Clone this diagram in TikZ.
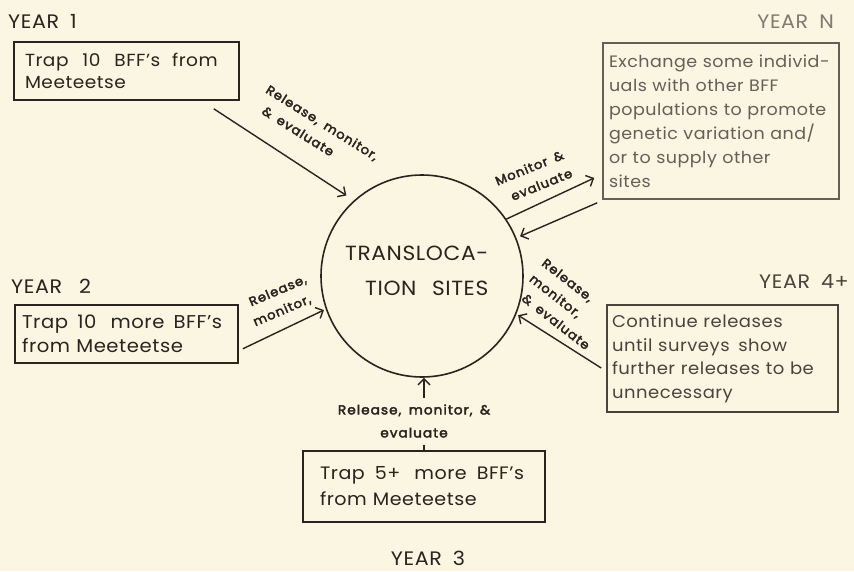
\documentclass[tikz,border=0pt]{standalone}
\usepackage{fontspec}
\setmainfont{Poppins}[LetterSpace=3,WordSpace=1.8,FakeStretch=1.06]
\newfontfamily\labfont{Poppins}[LetterSpace=8,WordSpace=1.6,FakeBold=3,FakeStretch=1.05]
\usetikzlibrary{arrows.meta}
\definecolor{bg}{RGB}{250,246,226}
\definecolor{ink}{RGB}{40,36,31}
\definecolor{inkN}{RGB}{100,95,88}
\definecolor{yrN}{RGB}{128,123,115}
\definecolor{ink4}{RGB}{72,68,62}
\newcommand{\wsp}[1]{\hspace{#1pt}}
\begin{document}
\begin{tikzpicture}[x=1pt,y=-1pt,
  box/.style={draw=ink, line width=1.6pt, rectangle, align=left, inner ysep=0pt, text=ink,
    font=\fontsize{17}{23}\selectfont},
  year/.style={text=ink, font=\fontsize{19.5}{21}\selectfont, inner sep=0pt},
  lab/.style={text=ink, font=\labfont\fontsize{12.5}{20}\selectfont, inner sep=0pt},
  arr/.style={draw=ink, line width=1.4pt, -{Straight Barb[length=6pt,width=12pt]}},
]
\fill[bg] (0,0) rectangle (854,571);
\useasboundingbox (0,0) rectangle (854,571);

% circle
\node[draw=ink, line width=1.6pt, circle, minimum size=202pt, inner sep=0pt] (c) at (422,276) {};
\node[anchor=base west, inner sep=0pt, text=ink, font=\fontsize{20.5}{24}\selectfont] (t1) at (345,260) {TRANSLOCA-};
\node[anchor=base west, inner sep=0pt, text=ink, font=\fontsize{20.5}{24}\selectfont] (t2) at (365,295) {TION\wsp{4} SITES};

% year labels
\node[year, anchor=base west] (y1) at (8,28) {YEAR 1};
\node[year, anchor=base east, text=yrN] (yN) at (834,28) {YEAR N};
\node[year, anchor=base west] (y2) at (11,293) {YEAR\wsp{6} 2};
\node[year, anchor=base east, text=ink4] (y4) at (849,288) {YEAR 4+};
\node[year, anchor=base] (y3) at (428,565) {YEAR 3};

% boxes
\node[box, minimum width=225pt, minimum height=58pt, text width=203pt, inner xsep=11pt,
  font=\fontsize{17.5}{22}\selectfont] (b1) at (126.5,71)
  {\mbox{Trap\wsp{8} 10\wsp{8} BFF's\wsp{6} from}\\Meeteetse};
\node[box, minimum width=223pt, minimum height=58pt, text width=209pt, inner xsep=7pt,
  font=\fontsize{18.5}{24}\selectfont] (b2) at (126.5,334)
  {\mbox{Trap\wsp{3} 10\wsp{8} more\wsp{3} BFF's}\\from Meeteetse};
\node[box, minimum width=242pt, minimum height=71pt, text width=208pt, inner xsep=17pt,
  font=\fontsize{18}{26}\selectfont] (b3) at (424,486.5)
  {\mbox{Trap\wsp{4} 5+\wsp{8} more\wsp{4} BFF's}\\from Meeteetse};
\node[box, draw=inkN, text=inkN, minimum width=232pt, minimum height=156pt, text width=224pt, inner xsep=6pt,
  font=\fontsize{16.5}{24}\selectfont] (bN) at (721,121)
  {\mbox{Exchange some individ-}\\uals with other BFF\\populations to promote\\genetic variation and/\\or to supply other\\sites};
\node[box, draw=ink4, text=ink4, minimum width=231pt, minimum height=107pt, text width=221pt, inner xsep=5pt,
  font=\fontsize{17}{23.5}\selectfont] (b4) at (722.5,358.5)
  {Continue releases\\until surveys \,show\\further releases to be\\unnecessary};

% connectors
\draw[arr, shorten >=9pt] ([shift={(-26,8)}]b1.south east) -- (c.132);
\draw[arr] (c.34) -- ([shift={(-8,57)}]bN.west);
\draw[arr, shorten >=4pt] ([shift={(-5,3)}]bN.south west) -- (c.22);
\draw[arr, shorten >=2pt] ([shift={(4,-15)}]b2.south east) -- (c.199);
\draw[arr, shorten >=2pt] ([shift={(-5,9.5)}]b4.west) -- (c.-22);
\draw[arr] (b3.north) -- (b3.north |- c.south);

% connector labels
\node[lab, align=left, rotate=-32] (l1) at (317,131) {Release, monitor,\\\hspace*{8pt}\& evaluate};
\node[lab, align=center, rotate=22] (lN) at (533,177) {Monitor \&\\\hspace*{10pt}evaluate};
\node[lab, align=left, rotate=23] (l2) at (280,301) {\hspace*{4pt}Release,\\monitor,};
\node[lab, align=left, rotate=-38] (l4) at (566,304) {Release,\\monitor,\\\hspace*{6pt}\& evaluate};
\node[lab, align=center, fill=bg, inner xsep=2pt, inner ysep=7pt, font=\labfont\fontsize{13}{23}\selectfont] (l3) at (414,421) {Release, monitor, \&\\evaluate};
\end{tikzpicture}
\end{document}
